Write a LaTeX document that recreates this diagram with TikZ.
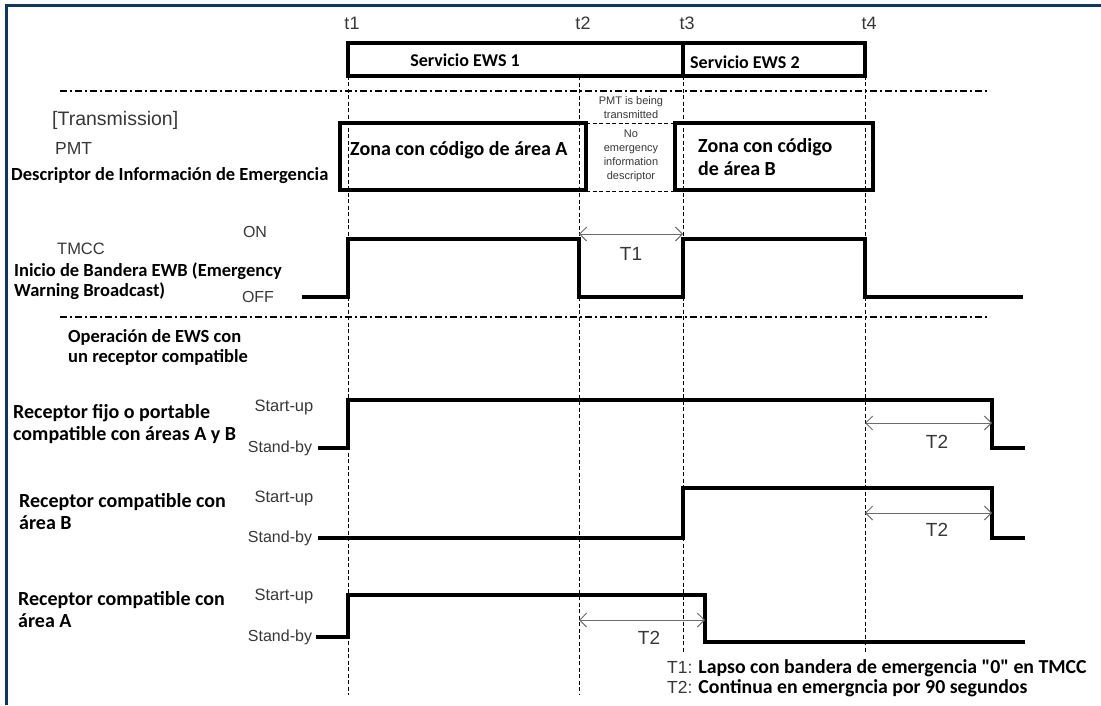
\documentclass[tikz,border=0pt]{standalone}
\usepackage{fontspec}
\setmainfont{Carlito}[Ligatures=TeXOff]
\newfontfamily\arialfont{Liberation Sans}
\usetikzlibrary{arrows.meta}
\definecolor{frameblue}{RGB}{16,55,98}
\definecolor{labelgray}{RGB}{55,55,55}
\tikzset{
  wave/.style={line width=3.6pt},
  boxline/.style={line width=3.6pt},
  tline/.style={line width=0.9pt, dash pattern=on 4pt off 2.5pt},
  sepline/.style={line width=1.8pt, dash pattern=on 7pt off 3pt on 2pt off 3pt},
  lapse/.style={<->, >={Straight Barb[length=7pt,width=14pt]}, draw=gray!85!black, line width=1pt},
  cal/.style={font=\fontsize{#1}{22}\selectfont\bfseries, inner sep=0pt, align=left},
  cal/.default=18.5,
  ari/.style={font=\arialfont\fontsize{#1}{#1}\selectfont, text=labelgray, inner sep=0pt},
  ari/.default=16,
  smalltxt/.style={font=\arialfont\fontsize{11}{14}\selectfont, text=labelgray, inner sep=0pt, align=center}
}
\begin{document}
\begin{tikzpicture}[x=1pt,y=-1pt]
\useasboundingbox (0,0) rectangle (1101,705);
\draw[frameblue, line width=3pt] (6,705) -- (6,5) -- (1101,5);

% time marks
\foreach \n/\x/\ya/\yb in {1/348/43/695, 2/579/76/695, 3/683/43/652, 4/865/43/653}{
  \node[ari=18] (lblt\n) at (\x+4,23) {t\n};
  \draw[tline] (\x,\ya) -- (\x,\yb);
}

\draw[boxline] (348,43) rectangle (865,76);
\draw[boxline] (683,43) -- (683,76);
\node[cal=18] (ews1) at (465,60) {Servicio EWS 1};
\node[cal=18, anchor=west] (ews2) at (690,62) {Servicio EWS 2};

\draw[sepline] (60,91) -- (990,91);
\draw[sepline] (60,317) -- (990,317);

% transmission
\node[ari=19.5, anchor=west] (trans) at (52,120) {[Transmission]};
\node[ari=17.5, anchor=west] (pmt) at (55,148) {PMT};
\node[cal, anchor=west] (desc) at (11,176) {Descriptor de Información de Emergencia};
\draw[boxline] (340,123) rectangle (586,190);
\node[cal=20, anchor=west] (zonaA) at (350,150) {Zona con código de área A};
\draw[tline] (586,123) -- (675,123);
\draw[tline] (586,191) -- (675,191);
\node[smalltxt] (pmttx) at (631,108) {PMT is being\\transmitted};
\node[smalltxt] (noemg) at (631,156) {No\\emergency\\information\\descriptor};
\draw[boxline] (675,123) rectangle (873,190);
\node[cal=20, anchor=west, font=\fontsize{20}{23}\selectfont\bfseries] (zonaB) at (698,157) {Zona con código\\de área B};

% TMCC
\node[ari] (on) at (255,232) {ON};
\node[ari] (off) at (258,297) {OFF};
\node[ari=16.5] (tmcc) at (81,249) {TMCC};
\node[cal, anchor=west, font=\fontsize{18.5}{20}\selectfont\bfseries] (ewb) at (14,281) {Inicio de Bandera EWB (Emergency\\Warning Broadcast)};
\draw[wave] (302,297) -- (348,297) -- (348,239) -- (579,239) -- (579,297) -- (683,297)
  -- (683,239) -- (865,239) -- (865,297) -- (1023,297);
\coordinate (T1a) at (579,234);
\coordinate (T1b) at (683,234);
\draw[lapse] (T1a) -- (T1b);
\node[ari=19] (T1) at (631,254) {T1};

% receivers
\node[cal, anchor=west, font=\fontsize{18.5}{20}\selectfont\bfseries] (oper) at (68,347) {Operación de EWS con\\un receptor compatible};

\node[cal=20, anchor=west] (rxab) at (13,424) {Receptor fijo o portable\\compatible con áreas A y B};
\node[ari=16.5] (upab) at (284,407) {Start-up};
\node[ari] (sbab) at (280,448) {Stand-by};
\draw[wave] (318,448) -- (348,448) -- (348,400) -- (992,400) -- (992,448) -- (1025,448);
\coordinate (T2a) at (865,423);
\coordinate (T2b) at (992,423);
\draw[lapse] (T2a) -- (T2b);
\node[ari=19] (T2ab) at (937,442) {T2};

\node[cal=20, anchor=west] (rxb) at (19,512) {Receptor compatible con\\área B};
\node[ari=16.5] (upb) at (284,498) {Start-up};
\node[ari] (sbb) at (280,538) {Stand-by};
\draw[wave] (318,538) -- (683,538) -- (683,488) -- (992,488) -- (992,538) -- (1025,538);
\coordinate (T2c) at (865,513);
\coordinate (T2d) at (992,513);
\draw[lapse] (T2c) -- (T2d);
\node[ari=19] (T2b) at (937,530) {T2};

\node[cal=20, anchor=west] (rxa) at (18,610) {Receptor compatible con\\área A};
\node[ari=16.5] (upa) at (284,596) {Start-up};
\node[ari] (sba) at (280,637) {Stand-by};
\draw[wave] (316,637) -- (348,637) -- (348,595) -- (705,595) -- (705,642) -- (1025,642);
\coordinate (T2e) at (579,620);
\coordinate (T2f) at (705,620);
\draw[lapse] (T2e) -- (T2f);
\node[ari=19] (T2a) at (649,638) {T2};

% legend
\node[cal, anchor=north west, font=\fontsize{19.8}{20}\selectfont\bfseries] (legend) at (667,659)
  {{\arialfont\mdseries\fontsize{17.5}{20}\selectfont\color{labelgray}T1:} Lapso con bandera de emergencia "0" en TMCC\\
   {\arialfont\mdseries\fontsize{17.5}{20}\selectfont\color{labelgray}T2:} Continua en emergncia por 90 segundos};
\end{tikzpicture}
\end{document}
